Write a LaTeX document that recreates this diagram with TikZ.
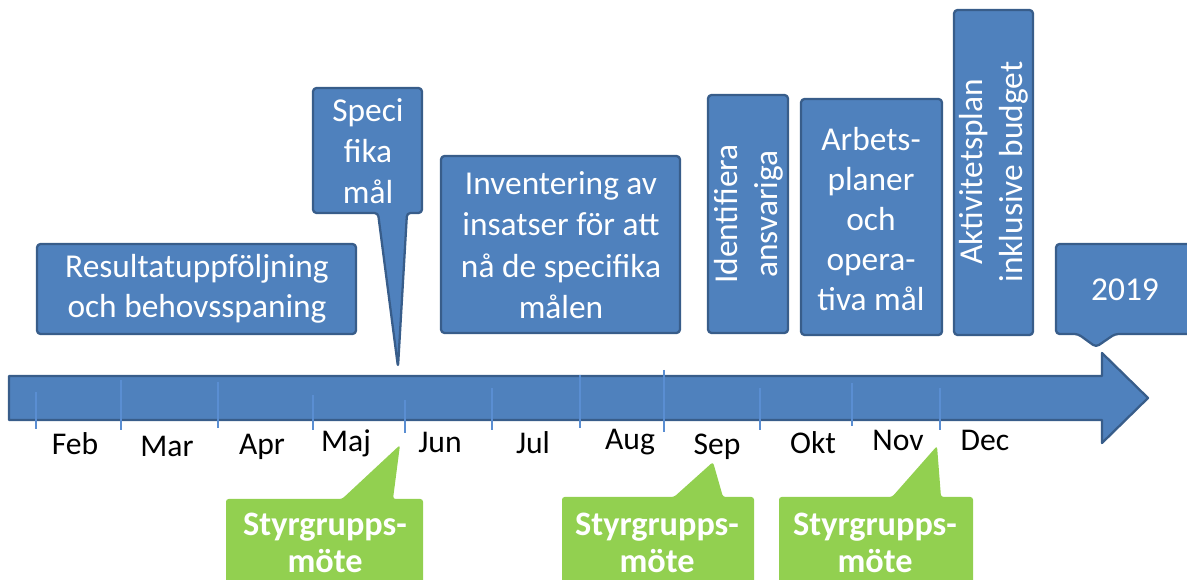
\documentclass[tikz,border=0pt]{standalone}
\usepackage{fontspec}
\setmainfont{Carlito}
\usepackage{tikz}
\usepackage{xcolor}
\definecolor{boxblue}{HTML}{4F81BD}
\definecolor{edgeblue}{HTML}{385D8A}
\definecolor{tickblue}{HTML}{5A8ED2}
\definecolor{meetgreen}{HTML}{92D050}

\tikzset{
  bluebox/.style={fill=boxblue, draw=edgeblue, line width=1.3pt, line join=round},
  greenbox/.style={fill=meetgreen, rounded corners=1.5pt},
  bluetxt/.style={text=white, align=center, inner sep=0pt, font=\fontsize{19}{22.5}\selectfont},
  greentxt/.style={text=white, align=center, inner sep=0pt, font=\fontsize{19.5}{21}\selectfont\bfseries},
  monthtxt/.style={anchor=base, inner sep=0pt, font=\fontsize{18}{20}\selectfont}
}

\begin{document}
\begin{tikzpicture}[x=0.02cm, y=-0.02cm]
                \clip (0,0) rectangle (1187,580);
                % the time line
                \draw[bluebox] (9,376) -- (1102,376) -- (1102,353) -- (1148,398) -- (1102,443) -- (1102,420) -- (9,420) -- cycle;
                \foreach \x/\a/\b in {36/392/429, 121/380/430, 218/382/428, 313/395/430, 405/400/433, 492/388/430, 580/375/428, 664/370/432, 760/388/430, 852/383/426, 940/388/430} {
                        \draw[tickblue, line width=0.6pt] (\x,\a) -- (\x,\b);
                    }
                \foreach \m/\x/\y in {Feb/75/455, Mar/167/457, Apr/262/455, Maj/346/452, Jun/440/453, Jul/533/454, Aug/630/450, Sep/717/455, Okt/813/454, Nov/898/451, Dec/985/451} {
                        \node[monthtxt] (m\m) at (\x,\y) {\m};
                    }
                % activities above the line
                \draw[bluebox, rounded corners=2pt] (37,244) rectangle (356,334);
                \node[bluetxt] (result) at (197,289) {Resultatuppföljning\\och behovsspaning};
                \draw[bluebox, rounded corners=2pt] (313,88) -- (422,88) -- (422,213) -- (407,213) -- (398,367) -- (378,213) -- (313,213) -- cycle;
                \node[bluetxt, font=\fontsize{19}{23.5}\selectfont] (specifika) at (368,151) {Speci\\fika\\mål};
                \draw[bluebox, rounded corners=2pt] (441,156) rectangle (680,333);
                \node[bluetxt, font=\fontsize{19}{23.5}\selectfont] (inventering) at (561,245) {Inventering av\\insatser för att\\nå de specifika\\målen};
                \draw[bluebox, rounded corners=2pt] (708,95) rectangle (788,333);
                \node[bluetxt, rotate=90] (ansvariga) at (749,214) {Identifiera\\ansvariga};
                \draw[bluebox, rounded corners=2pt] (801,99) rectangle (942,335);
                \node[bluetxt, font=\fontsize{19}{22.8}\selectfont] (arbetsplaner) at (871,219) {Arbets-\\planer\\och\\opera-\\tiva mål};
                \draw[bluebox, rounded corners=2pt] (954,10) rectangle (1033,335);
                \node[bluetxt, rotate=90] (aktivitetsplan) at (994,172) {Aktivitetsplan\\inklusive budget};
                \draw[bluebox, rounded corners=2pt] (1056,244) -- (1200,244) -- (1200,334) -- (1115,334) -- (1096,347) -- (1078,334) -- (1056,334) -- cycle;
                \node[bluetxt] (nextyear) at (1125,290) {2019};
                % steering group meetings
                \fill[greenbox] (226,499) -- (342,499) -- (400,445) -- (393,499) -- (423,499) -- (423,600) -- (226,600) -- cycle;
                \node[greentxt] (meetmaj) at (325,543) {Styrgrupps-\\möte};
                \fill[greenbox] (562,497) -- (674,497) -- (713,462) -- (723,497) -- (754,497) -- (754,600) -- (562,600) -- cycle;
                \node[greentxt] (meetsep) at (657,543) {Styrgrupps-\\möte};
                \fill[greenbox] (779,497) -- (892,497) -- (937,446) -- (941,497) -- (973,497) -- (973,600) -- (779,600) -- cycle;
                \node[greentxt] (meetnov) at (875,543) {Styrgrupps-\\möte};
            \end{tikzpicture}
\end{document}
